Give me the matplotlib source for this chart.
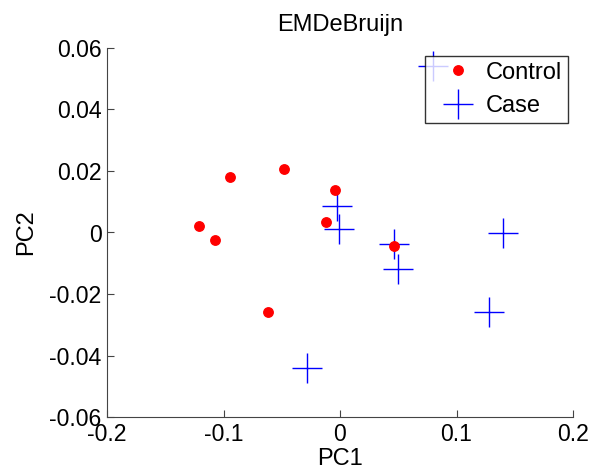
import matplotlib
matplotlib.use("Agg")
import matplotlib.pyplot as plt

control_x = [-0.1213, -0.1076, -0.0942, -0.0484, -0.0040, -0.0117, -0.0615, 0.0466]
control_y = [0.0022, -0.0025, 0.0181, 0.0206, 0.0138, 0.0033, -0.0258, -0.0043]
case_x = [-0.0023, -0.0011, 0.0466, 0.0495, 0.1397, 0.1282, -0.0281, 0.0800]
case_y = [0.0085, 0.0011, -0.0037, -0.0120, -0.0003, -0.0258, -0.0440, 0.0540]
xticks = [-0.2, -0.1, 0, 0.1, 0.2]
yticks = [-0.06, -0.04, -0.02, 0, 0.02, 0.04, 0.06]

plt.rcParams['font.family'] = ['Liberation Sans', 'DejaVu Sans']
fig = plt.figure(figsize=(5.98, 4.69), dpi=100)
ax = fig.add_axes([107/598, 1-417/469, (573-107)/598, (417-48)/469])

ax.plot(control_x, control_y, linestyle='none', marker='o', color='red',
        markersize=6.8, label='Control', zorder=3)
ax.plot(case_x, case_y, linestyle='none', marker='+', color='blue',
        markersize=21.5, markeredgewidth=1.0, label='Case', zorder=2)

ax.set_xlim(-0.2, 0.2)
ax.set_ylim(-0.06, 0.06)
ax.set_xticks(xticks)
ax.set_yticks(yticks)
ax.set_xticklabels(['-0.2', '-0.1', '0', '0.1', '0.2'])
ax.set_yticklabels(['-0.06', '-0.04', '-0.02', '0', '0.02', '0.04', '0.06'])
ax.tick_params(direction='in', length=5, labelsize=16.6, width=0.8, color='#444444', pad=4)
for s in ['top', 'right']:
    ax.spines[s].set_visible(False)
for s in ['left', 'bottom']:
    ax.spines[s].set_color('#444444')
    ax.spines[s].set_linewidth(0.8)

ax.set_xlabel('PC1', fontsize=17, labelpad=1.5)
ax.set_ylabel('PC2', fontsize=17, labelpad=9)
ax.set_title('EMDeBruijn', fontsize=17, pad=12)

leg = ax.legend(loc='upper right', bbox_to_anchor=(568/598, 1-56/469), bbox_transform=fig.transFigure,
                fontsize=17, frameon=True, fancybox=False, edgecolor='black',
                borderpad=0.24, borderaxespad=0, handlelength=2.3, handletextpad=0.05,
                labelspacing=0.5, markerscale=1.0)
leg.get_frame().set_linewidth(1.0)
leg.set_zorder(5)

fig.savefig('out.png', dpi=100)
